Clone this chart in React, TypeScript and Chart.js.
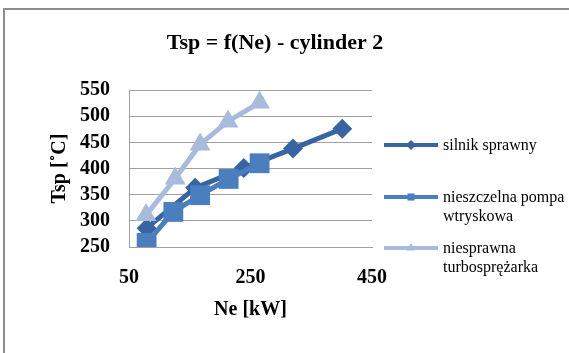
import React, { useEffect, useRef } from 'react';
import { Chart, registerables } from 'chart.js';

Chart.register(...registerables);

const TITLE = 'Tsp = f(Ne) - cylinder 2';
const X_TITLE = 'Ne [kW]';
const Y_TITLE = 'Tsp [˚C]';
const SERIES_NAMES = ['silnik sprawny', 'nieszczelna pompa wtryskowa', 'niesprawna turbosprężarka'];
const LEGEND_LINES = [['silnik sprawny'], ['nieszczelna pompa', 'wtryskowa'], ['niesprawna', 'turbosprężarka']];

const NE_SPRAWNY = [79, 159, 239, 320, 401];
const TSP_SPRAWNY = [286, 363, 401, 438, 476];
const NE_POMPA = [79, 123, 167, 214, 265];
const TSP_POMPA = [258, 317, 349, 380, 410];
const NE_TURBO = [78, 126, 167, 213, 265];
const TSP_TURBO = [311, 381, 446, 490, 526];

const X_TICKS = [50, 250, 450];
const Y_TICKS = [250, 300, 350, 400, 450, 500, 550];

const COLORS = ['#3865A1', '#4A7EBF', '#A8BBDC'];
const STYLES = ['rectRot', 'rect', 'triangle'];
const RADII = [10, 14, 12];
const FONT = '"Liberation Serif", "Times New Roman", serif';

function pts(xs: number[], ys: number[]) {
  return xs.map((x, i) => ({ x, y: ys[i] }));
}

function drawMarker(ctx: CanvasRenderingContext2D, style: string, x: number, y: number, r: number) {
  ctx.beginPath();
  if (style === 'rectRot') {
    ctx.moveTo(x, y - r);
    ctx.lineTo(x + r, y);
    ctx.lineTo(x, y + r);
    ctx.lineTo(x - r, y);
  } else if (style === 'rect') {
    const s = r * Math.SQRT1_2;
    ctx.rect(x - s, y - s, 2 * s, 2 * s);
  } else {
    ctx.moveTo(x, y - r);
    ctx.lineTo(x + r * 0.866, y + r / 2);
    ctx.lineTo(x - r * 0.866, y + r / 2);
  }
  ctx.closePath();
  ctx.fill();
}

const framePlugin = {
  id: 'frame',
  beforeDraw(chart: any) {
    const ctx = chart.ctx as CanvasRenderingContext2D;
    ctx.save();
    ctx.fillStyle = '#ffffff';
    ctx.fillRect(0, 0, chart.width, chart.height);
    ctx.strokeStyle = '#8C8C8C';
    ctx.lineWidth = 2;
    ctx.beginPath();
    ctx.moveTo(3, 9);
    ctx.lineTo(chart.width, 9);
    ctx.moveTo(4, 8);
    ctx.lineTo(4, chart.height);
    ctx.stroke();
    ctx.fillStyle = '#000';
    ctx.font = `bold 22px ${FONT}`;
    ctx.textAlign = 'center';
    ctx.textBaseline = 'middle';
    ctx.fillText(TITLE, 275, 43);
    ctx.restore();
  },
  afterDraw(chart: any) {
    const ctx = chart.ctx as CanvasRenderingContext2D;
    ctx.save();
    const lineY = [145, 197, 248];
    LEGEND_LINES.forEach((lines, i) => {
      const y = lineY[i];
      ctx.strokeStyle = COLORS[i];
      ctx.lineWidth = 4;
      ctx.beginPath();
      ctx.moveTo(384, y);
      ctx.lineTo(438, y);
      ctx.stroke();
      ctx.fillStyle = COLORS[i];
      drawMarker(ctx, STYLES[i], 411, y, 5);
      ctx.fillStyle = '#000';
      ctx.font = `16px ${FONT}`;
      ctx.textAlign = 'left';
      ctx.textBaseline = 'middle';
      lines.forEach((t, j) => ctx.fillText(t, 443, y + 1 + j * 19));
    });
    ctx.restore();
  },
};

export default function App() {
  const ref = useRef<HTMLCanvasElement | null>(null);
  useEffect(() => {
    if (!ref.current) return;
    const series = [
      pts(NE_SPRAWNY, TSP_SPRAWNY),
      pts(NE_POMPA, TSP_POMPA),
      pts(NE_TURBO, TSP_TURBO),
    ];
    const chart = new Chart(ref.current, {
      type: 'line',
      data: {
        datasets: series.map((d, i) => ({
          label: SERIES_NAMES[i],
          data: d,
          borderColor: COLORS[i],
          backgroundColor: COLORS[i],
          borderWidth: 5,
          pointStyle: STYLES[i] as any,
          pointRadius: RADII[i],
          pointBorderWidth: 0,
          pointBackgroundColor: COLORS[i],
          tension: 0,
          order: 3 - i,
        })),
      },
      options: {
        responsive: false,
        animation: false,
        layout: { padding: { left: 0, top: 90, right: 197, bottom: 0 } },
        plugins: { legend: { display: false }, title: { display: false }, tooltip: { enabled: false } },
        scales: {
          x: {
            type: 'linear',
            min: 50,
            max: 450,
            afterFit: (s: any) => { s.height = 106; },
            afterBuildTicks: (s: any) => { s.ticks = X_TICKS.map((v) => ({ value: v })); },
            grid: { display: false, drawTicks: false },
            border: { display: true, color: '#A0A0A0', width: 1 },
            ticks: { autoSkip: false, maxRotation: 0, padding: 19, color: '#000', font: { family: FONT, size: 20, weight: 'bold' } },
            title: { display: true, text: X_TITLE, color: '#000', font: { family: FONT, size: 20, weight: 'bold' }, padding: { top: 0, bottom: 31 } },
          },
          y: {
            type: 'linear',
            min: 250,
            max: 550,
            afterFit: (s: any) => { s.width = 129; },
            afterBuildTicks: (s: any) => { s.ticks = Y_TICKS.map((v) => ({ value: v })); },
            grid: { color: '#A0A0A0', lineWidth: 1, drawTicks: false },
            border: { display: true, color: '#A0A0A0', width: 1 },
            ticks: { autoSkip: false, padding: 19, color: '#000', font: { family: FONT, size: 20, weight: 'bold' } },
            title: { display: true, text: Y_TITLE, color: '#000', font: { family: FONT, size: 20, weight: 'bold' }, padding: { top: 48, bottom: 0 } },
          },
        },
      },
      plugins: [framePlugin],
    });
    return () => chart.destroy();
  }, []);
  return (
    <div style={{ position: 'fixed', left: 0, top: 0, width: 569, height: 353 }}>
      <canvas ref={ref} width={569} height={353} />
    </div>
  );
}
